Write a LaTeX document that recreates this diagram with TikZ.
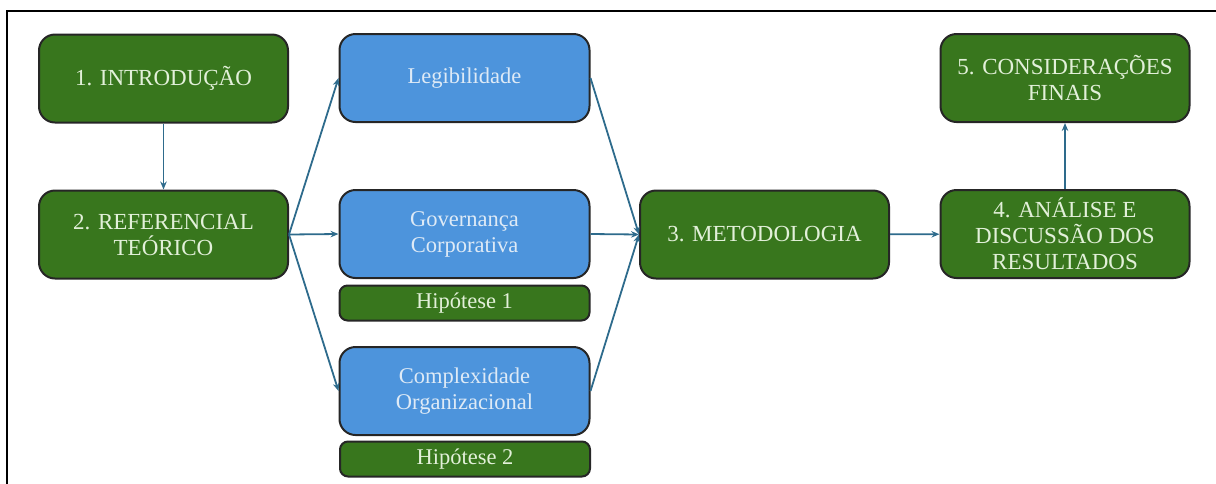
\documentclass[tikz,border=0pt]{standalone}
\usepackage{fontspec}
\setmainfont{Liberation Serif}
\usetikzlibrary{arrows.meta,positioning}
\definecolor{boxgreen}{RGB}{56,118,29}
\definecolor{boxblue}{RGB}{77,148,220}
\definecolor{txtgreen}{RGB}{226,240,217}
\definecolor{txtblue}{RGB}{222,234,246}
\definecolor{arrowc}{RGB}{46,107,140}
\begin{document}
\begin{tikzpicture}
		[x=1pt,y=-1pt,
		GreenNode/.style={rectangle,rounded corners=16pt,draw=black!85,fill=boxgreen,line width=2pt,
			text=txtgreen,align=center,minimum width=249pt,minimum height=88pt,
			font=\fontsize{23}{26}\selectfont},
		BlueNode/.style={rectangle,rounded corners=16pt,draw=black!85,fill=boxblue,line width=2pt,
			text=txtblue,align=center,minimum width=250pt,minimum height=88pt,
			font=\fontsize{22.5}{26}\selectfont},
		HypNode/.style={rectangle,rounded corners=8pt,draw=black!85,fill=boxgreen,line width=2pt,
			text=txtgreen,align=center,minimum width=250pt,minimum height=35pt,
			font=\fontsize{22.5}{26}\selectfont},
		link/.style={-{Stealth[length=8pt,width=6.5pt]},draw=arrowc,fill=arrowc,line width=1.8pt}]
		
		\useasboundingbox (0,0) rectangle (1216,483);
		% moldura
		\draw[line width=2.2pt] (7,484) -- (7,11) -- (1217,11);
		
		% coluna da esquerda
		\node[GreenNode] (intro) at (163.5,78.5){1. INTRODUÇÃO};
		\node[GreenNode] (ref) at (163.5,234.5){2. REFERENCIAL\\TEÓRICO};
		
		% temas do referencial
		\node[BlueNode] (leg) at (464.5,78){Legibilidade};
		\node[BlueNode] (gov) at (464.5,234){Governança\\Corporativa};
		\node[HypNode] (hip_1) at (464.5,303){Hipótese 1};
		\node[BlueNode] (comp) at (464.5,391){Complexidade\\Organizacional};
		\node[HypNode] (hip_2) at (465,459){Hipótese 2};
		
		% metodologia e resultados
		\node[GreenNode] (met) at (764.5,234.5){3. METODOLOGIA};
		\node[GreenNode] (ana) at (1065,234){4. ANÁLISE E\\DISCUSSÃO DOS\\RESULTADOS};
		\node[GreenNode] (cons) at (1065,78){5. CONSIDERAÇÕES\\FINAIS};
		
		% ligações
		\draw[link](intro)--(ref);
		\foreach \t in {leg,gov,comp}
		{
			\draw[link](ref.east)--(\t.west);
			\draw[link](\t.east)--(met.west);
		}
		\draw[link](met)--(ana);
		\draw[link](ana)--(cons);
		
	\end{tikzpicture}
\end{document}
